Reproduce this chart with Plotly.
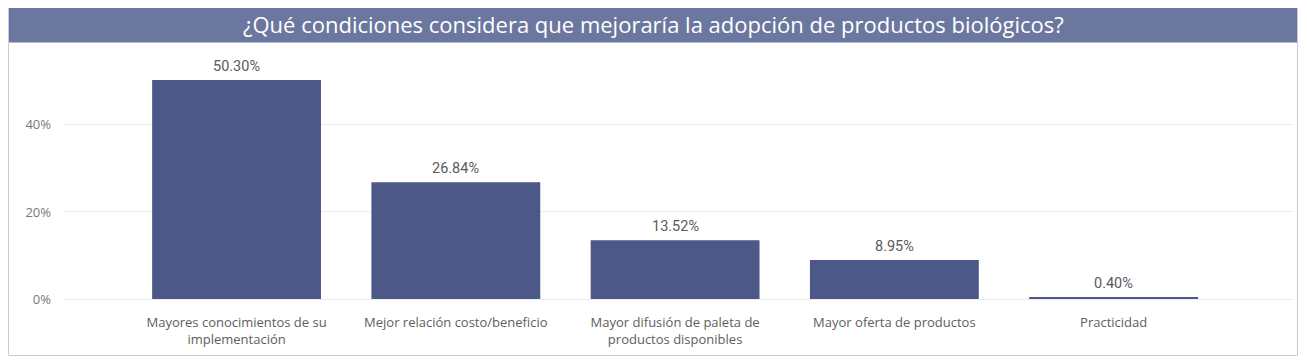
import plotly.graph_objects as go

title = "¿Qué condiciones considera que mejoraría la adopción de productos biológicos?"
categories = [
    "Mayores conocimientos de su<br>implementación",
    "Mejor relación costo/beneficio",
    "Mayor difusión de paleta de<br>productos disponibles",
    "Mayor oferta de productos",
    "Practicidad",
]
values = [50.30, 26.84, 13.52, 8.95, 0.40]
value_labels = ["50.30%", "26.84%", "13.52%", "8.95%", "0.40%"]
y_ticks = [0, 20, 40]
y_tick_labels = ["0%", "20%", "40%"]

OFF = 8  # page body margin
W, H = 1307 - OFF, 362 - OFF
# plot area in page pixels
PL, PR, PT, PB = 64, 1293, 50, 299
L, R, T, B = PL - OFF, PR - OFF, PT - OFF, PB - OFF


def px(x):
    return (x - PL) / (PR - PL)


def py(y):
    return (PB - y) / (PB - PT)


xs = list(range(len(categories)))

fig = go.Figure(go.Bar(
    x=xs,
    y=values,
    marker=dict(color="#4B5888", line=dict(width=0)),
    hoverinfo="skip",
))

label_annotations = [
    dict(x=x, y=v, xref="x", yref="y", text=t, showarrow=False,
         xanchor="center", yanchor="bottom", yshift=3,
         font=dict(family="Roboto", size=14.5, color="#5A5A5A"))
    for x, v, t in zip(xs, values, value_labels)
]

fig.update_layout(
    width=W, height=H,
    margin=dict(l=L, r=W - R, t=T, b=H - B, pad=0),
    paper_bgcolor="white",
    plot_bgcolor="white",
    bargap=0.23,
    showlegend=False,
    xaxis=dict(
        tickmode="array",
        tickvals=xs,
        ticktext=categories,
        range=[-0.787, 4.818],
        showgrid=False, zeroline=False, showline=False,
        tickfont=dict(family="Open Sans", size=13, color="#605E5C"),
        ticks="", ticklabelstandoff=14,
    ),
    yaxis=dict(
        range=[0, 57.2],
        tickmode="array",
        tickvals=y_ticks,
        ticktext=y_tick_labels,
        showgrid=True, gridcolor="#ECECEC", gridwidth=1,
        zeroline=True, zerolinecolor="#ECECEC", zerolinewidth=1,
        showline=False,
        tickfont=dict(family="Open Sans", size=13, color="#777777"),
        ticks="", ticklabelstandoff=12,
    ),
    shapes=[
        dict(type="rect", xref="paper", yref="paper",
             x0=px(8.5), x1=px(1297.5), y0=py(355.5), y1=py(5.5),
             line=dict(color="#C5CADF", width=1), fillcolor="rgba(0,0,0,0)", layer="below"),
        dict(type="rect", xref="paper", yref="paper",
             x0=px(9), x1=px(1297), y0=py(42.5), y1=py(6),
             line=dict(width=0), fillcolor="#6B779F", layer="below"),
    ],
    annotations=label_annotations + [
        dict(text=title, xref="paper", yref="paper",
             x=px(653), y=py(24), xanchor="center", yanchor="middle",
             showarrow=False,
             font=dict(family="Open Sans", size=22, color="white")),
    ],
)

fig.write_html("out.html")
